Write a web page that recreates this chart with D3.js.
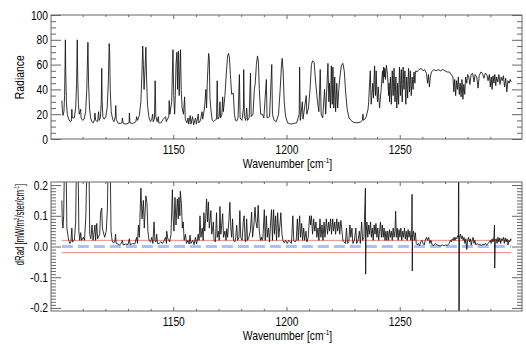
<!DOCTYPE html>
<html><head><meta charset="utf-8">
<script src="https://cdn.jsdelivr.net/npm/d3@7"></script>
<style>
body{margin:0;background:#fff}
svg text{font-family:"Liberation Sans",Arial,Helvetica,sans-serif;fill:#000}
</style>
</head><body>
<svg id="chart" width="526" height="344"></svg>
<script>
// Radiance spectrum vs wavenumber [cm-1]
const radiancePts = [
[1100.8,31],[1101.0,24],[1101.3,19],[1101.7,22],[1102.0,35],[1102.2,60],[1102.35,80],[1102.5,55],[1102.8,30],[1103.2,20],
[1103.8,16],[1104.4,14],[1105.0,14.5],[1105.2,24],[1105.4,17],[1106.3,17],[1106.9,25],[1107.3,45],[1107.6,80],[1107.8,50],
[1108.1,28],[1108.5,20],[1109.1,24],[1109.3,17],[1110,15],[1110.6,16],[1111.3,22],[1111.8,40],[1112.3,78],[1112.6,45],
[1113,25],[1113.5,17],[1114,14],[1114.7,13],[1115.2,16],[1115.4,21],[1115.7,15],[1116.6,14],[1117.0,22],[1117.3,15],
[1117.8,17],[1118.2,30],[1118.4,57],[1118.6,30],[1118.9,18],[1119.5,16],[1120.2,18],[1120.8,25],[1121.3,45],[1121.7,77],
[1121.9,70],[1122.2,38],[1122.6,22],[1123.2,16],[1123.8,14],[1124.4,18],[1124.6,27],[1124.8,16],[1125.5,13],[1126.5,12.5],
[1127.3,13],[1127.5,17],[1127.9,12.5],[1129,12],[1130.5,13],[1130.6,21],[1130.9,13],[1132,12.5],[1133.5,14],[1133.8,18],
[1134.2,15],[1135,19],[1135.7,30],[1136.2,55],[1136.5,75],[1136.8,60],[1137.1,40],[1137.5,55],[1137.9,74],[1138.2,50],
[1138.6,28],[1139.2,18],[1139.9,14],[1140.5,16],[1140.9,20],[1141.1,14],[1141.7,16],[1142.0,47],[1142.3,18],[1142.9,14],
[1143.4,18],[1143.6,13],[1144.5,13],[1145.6,16],[1146.6,18],[1146.9,14],[1148,18],[1148.2,31],[1148.5,20],[1149.3,30],
[1149.85,72],[1150.2,35],[1150.6,20],[1150.9,35],[1151.2,60],[1151.6,70],[1151.9,40],[1152.1,65],[1152.3,71],[1152.6,35],
[1152.9,55],[1153.2,72],[1153.5,40],[1153.9,25],[1154.5,20],[1155.0,34],[1155.3,16],[1156,13],[1156.5,17],[1156.8,12],
[1157.5,19],[1157.8,12],[1158.5,18],[1159,11.5],[1159.8,17],[1160.2,12],[1161,20],[1161.3,13],[1162,15],[1162.7,22],
[1163,16],[1163.8,25],[1164.4,40],[1164.7,25],[1165.0,45],[1165.6,69],[1165.9,65],[1166.2,33],[1166.6,24],[1167.1,16],
[1167.7,14],[1168.3,15],[1169.1,16],[1169.4,47],[1169.7,16],[1170.3,18],[1170.6,30],[1170.9,17],[1171.5,20],[1171.8,34],
[1172.1,22],[1172.8,35],[1173.5,55],[1174.0,67],[1174.4,69],[1174.8,66],[1175.2,52],[1175.8,36],[1176.5,37],[1177,20],
[1177.5,15],[1178.0,14.5],[1178.6,17],[1179.2,52],[1179.5,17],[1180.3,15],[1181.0,25],[1181.1,56],[1181.4,18],[1182.0,15],
[1182.4,25],[1182.8,15],[1183.5,17],[1184.1,53],[1184.4,18],[1185.2,20],[1185.8,40],[1186.2,45],[1186.7,60],[1187.2,67],
[1187.6,62],[1188.0,40],[1188.6,20],[1189.3,20],[1190,17],[1191.1,48],[1191.4,17],[1192.5,18],[1193.5,60],[1193.8,20],
[1194.5,15],[1195.5,14],[1196.5,20],[1197.2,40],[1197.8,60],[1198.1,65],[1198.5,55],[1199,30],[1199.6,18],[1200.5,13],
[1202,12],[1203,12.5],[1204.5,13],[1205.6,20],[1205.8,58],[1206.1,15],[1207.0,30],[1207.3,16],[1208.7,35],[1209,20],
[1209.7,25],[1210.4,40],[1211,60],[1211.5,63],[1212.2,62],[1212.9,45],[1213.7,30],[1214.3,22],[1214.9,56],[1215.3,20],
[1216.0,17],[1216.8,40],[1217.3,20],[1218.3,61],[1218.7,30],[1219.0,45],[1219.4,25],[1219.8,59],[1220.2,28],[1220.5,58],
[1220.9,25],[1221.3,50],[1221.7,22],[1222.2,45],[1222.6,25],[1223.1,40],[1223.6,50],[1224.2,59],[1224.9,61],[1225.5,55],
[1226.1,38],[1226.8,24],[1227.6,17],[1228.5,15],[1229.5,13.5],[1231,13],[1232.5,13.5],[1233.5,15],[1233.75,20],[1234,15],
[1235,17],[1235.5,20],[1236.0,24],[1236.3,30],[1236.6,42],[1237.0,55],[1237.2,40],[1237.4,28],[1237.7,35],[1238.1,45],
[1238.4,33],[1238.7,50],[1238.9,59],[1239.1,42],[1239.3,35],[1239.6,55],[1239.9,38],[1240.2,30],[1240.5,42],[1240.8,33],
[1241.1,25],[1241.4,32],[1241.8,40],[1242.1,48],[1242.4,55],[1242.7,45],[1242.9,58],[1243.2,50],[1243.4,57],[1243.7,48],
[1244.1,59.5],[1244.4,55],[1244.6,52],[1244.9,42],[1245.1,35],[1245.3,45],[1245.5,30],[1245.7,42],[1245.9,50],[1246.1,38],
[1246.3,28],[1246.5,40],[1246.7,55],[1246.9,45],[1247.1,35],[1247.3,48],[1247.5,57],[1247.7,42],[1247.9,30],[1248.1,38],
[1248.3,50],[1248.5,35],[1248.7,25],[1248.9,33],[1249.1,45],[1249.3,36],[1249.5,28],[1249.7,44],[1249.9,58],[1250.1,46],
[1250.3,35],[1250.5,47],[1250.7,56],[1250.9,41],[1251.1,30],[1251.3,44],[1251.5,58],[1251.7,48],[1251.9,40],[1252.1,49],
[1252.3,55],[1252.5,38],[1252.7,28],[1252.9,40],[1253.1,50],[1253.3,42],[1253.5,33],[1253.7,46],[1253.9,57],[1254.1,47],
[1254.3,38],[1254.5,48],[1254.7,55],[1254.9,44],[1255.1,35],[1255.3,43],[1255.5,50],[1255.7,45],[1255.9,40],[1256.1,48],
[1256.3,54],[1256.5,50],[1256.7,45],[1256.9,52],[1257.1,55],[1257.5,54],[1258.5,56],[1259.5,57],[1260.3,55],[1261,56],
[1261.8,53],[1262.3,45],[1262.7,52],[1263.1,42],[1263.5,50],[1264,54],[1265,56],[1266,55],[1267,56],[1268,55],
[1269,56],[1270,55],[1271,54],[1272,54],[1273.5,50],[1273.9,38],[1274.3,48],[1274.7,35],[1275.1,47],[1275.5,40],
[1275.9,50],[1276.3,36],[1276.7,45],[1277.1,34],[1277.5,48],[1277.9,32],[1278.3,44],[1278.7,36],[1279.1,50],[1279.6,45],
[1280,52],[1280.5,50],[1281,44],[1281.5,52],[1282.2,53],[1282.8,46],[1283.3,52],[1284,50],[1284.6,41],[1285.1,51],
[1285.8,54],[1286.5,53],[1287.2,49],[1287.8,53],[1288.5,52],[1289,47],[1289.6,52],[1290,42],[1290.4,50],[1290.8,40],
[1291.2,51],[1291.6,45],[1292,52],[1292.4,43],[1292.8,50],[1293.3,46],[1293.8,52],[1294.3,44],[1294.8,50],[1295.3,47],
[1295.8,51],[1296.3,42],[1296.8,49],[1297.3,38],[1297.8,47],[1298.3,45],[1298.8,48],[1299.2,46]
];

// Radiance difference [mW/m2/ster/cm-1]
const dRadPts = [
[1100.8,0.15],[1101.0,0.08],[1101.3,0.06],[1101.6,0.10],[1101.9,0.25],[1102.3,0.35],[1102.7,0.25],[1103.0,0.06],[1103.4,0.04],[1103.8,0.02],
[1104.3,0.01],[1104.8,0.015],[1105.2,0.06],[1105.5,0.015],[1106.3,0.02],[1106.9,0.08],[1107.2,0.25],[1107.6,0.35],[1108.0,0.25],[1108.3,0.05],
[1108.7,0.02],[1109.1,0.045],[1109.5,0.02],[1110.3,0.03],[1110.8,0.02],[1111.4,0.1],[1111.8,0.25],[1112.3,0.35],[1112.8,0.25],[1113.1,0.04],
[1113.6,0.025],[1114.1,0.07],[1114.6,0.02],[1115.4,0.07],[1115.7,0.02],[1116.2,0.075],[1116.6,0.025],[1117.5,0.04],[1117.9,0.11],[1118.4,0.125],
[1118.7,0.06],[1119.0,0.05],[1119.7,0.03],[1120.4,0.05],[1120.9,0.12],[1121.2,0.25],[1121.7,0.35],[1122.2,0.25],[1122.5,0.05],[1123,0.02],
[1123.5,0.012],[1124.2,0.015],[1124.5,0.04],[1124.8,0.01],[1125.5,0.008],[1126.3,0.005],[1127,0.01],[1127.5,0.02],[1127.9,0.005],[1129,0.008],
[1130,0.006],[1130.6,0.025],[1131,0.005],[1132,0.01],[1133,0.008],[1133.8,0.03],[1134.2,0.01],[1134.6,0.07],[1135.0,0.03],[1135.7,0.19],
[1136.2,0.09],[1136.8,0.15],[1137.2,0.06],[1137.9,0.165],[1138.4,0.14],[1138.8,0.05],[1139.3,0.02],[1140,0.015],[1140.5,0.03],[1141.0,0.01],
[1141.5,0.08],[1141.9,0.02],[1142.3,0.015],[1142.7,0.04],[1143,0.01],[1143.8,0.01],[1144.5,0.015],[1145.3,0.01],[1146.0,0.02],[1146.6,0.03],
[1147.0,0.01],[1147.1,0.05],[1147.6,0.025],[1148.4,0.015],[1149.0,0.04],[1149.6,0.185],[1149.9,0.1],[1150.3,0.05],[1150.75,0.16],[1151.2,0.07],
[1151.8,0.155],[1152.2,0.09],[1152.5,0.16],[1152.9,0.1],[1153.1,0.18],[1153.6,0.14],[1154.0,0.06],[1154.4,0.08],[1154.8,0.02],[1155.4,0.04],
[1155.8,0.01],[1156.5,0.02],[1157,0.008],[1157.4,0.037],[1157.8,0.01],[1158.6,0.02],[1159.2,0.006],[1159.8,0.03],[1160.3,0.008],[1161.0,0.04],
[1161.4,0.02],[1161.8,0.10],[1162.2,0.03],[1162.8,0.06],[1163.2,0.02],[1163.5,0.11],[1163.9,0.05],[1164.3,0.09],[1164.7,0.155],[1165.1,0.08],
[1165.5,0.145],[1165.9,0.06],[1166.3,0.09],[1166.6,0.117],[1167.0,0.04],[1167.4,0.06],[1167.7,0.08],[1168.0,0.02],[1168.6,0.015],[1169.1,0.11],
[1169.4,0.03],[1169.9,0.05],[1170.3,0.02],[1170.6,0.13],[1171.0,0.04],[1171.4,0.07],[1171.8,0.107],[1172.2,0.03],[1172.8,0.05],[1173.3,0.02],
[1173.6,0.058],[1174.0,0.03],[1174.6,0.09],[1175.0,0.144],[1175.4,0.06],[1175.8,0.03],[1176.2,0.09],[1176.6,0.02],[1177.2,0.015],[1177.6,0.03],
[1178.0,0.069],[1178.4,0.02],[1179.0,0.03],[1179.4,0.117],[1179.8,0.03],[1180.4,0.02],[1180.9,0.08],[1181.3,0.1],[1181.7,0.02],[1182.0,0.015],
[1182.4,0.09],[1182.8,0.02],[1183.4,0.03],[1184.0,0.05],[1184.6,0.112],[1185.0,0.03],[1185.6,0.07],[1186.1,0.128],[1186.5,0.08],[1187.0,0.06],
[1187.5,0.134],[1188.0,0.05],[1188.5,0.02],[1189.0,0.031],[1189.3,0.02],[1189.6,0.03],[1190.2,0.12],[1190.6,0.02],[1191.1,0.10],[1191.5,0.03],
[1192.0,0.06],[1192.5,0.015],[1193.0,0.08],[1193.4,0.12],[1193.8,0.02],[1194.3,0.12],[1194.7,0.04],[1195.2,0.10],[1195.6,0.02],[1196.1,0.11],
[1196.6,0.03],[1197.1,0.07],[1197.5,0.11],[1198.0,0.04],[1198.4,0.02],[1199.0,0.012],[1199.6,0.02],[1200.3,0.01],[1201.0,0.02],[1201.6,0.015],
[1202.2,0.01],[1202.8,0.1],[1203.2,0.02],[1203.8,0.015],[1204.3,0.02],[1204.8,0.09],[1205.2,0.02],[1205.8,0.1],[1206.2,0.03],[1206.7,0.075],
[1207.1,0.02],[1207.6,0.06],[1208.0,0.02],[1208.6,0.05],[1209.0,0.015],[1209.6,0.03],[1210.2,0.1],[1210.6,0.07],[1211.0,0.1],[1211.5,0.04],
[1212.0,0.09],[1212.5,0.05],[1213.0,0.08],[1213.4,0.03],[1213.9,0.06],[1214.3,0.02],[1214.8,0.09],[1215.2,0.03],[1215.7,0.07],[1216.1,0.02],
[1216.6,0.08],[1217.0,0.03],[1217.6,0.09],[1218.1,0.04],[1218.6,0.08],[1219.0,0.05],[1219.5,0.09],[1219.9,0.04],[1220.4,0.09],[1220.8,0.05],
[1221.3,0.08],[1221.7,0.04],[1222.2,0.09],[1222.6,0.05],[1223.1,0.08],[1223.5,0.04],[1224.0,0.085],[1224.5,0.05],[1224.9,0.02],[1225.4,0.015],
[1226.0,0.01],[1226.5,0.06],[1226.9,0.01],[1227.5,0.015],[1228.0,0.07],[1228.4,0.03],[1228.9,0.06],[1229.3,0.01],[1230.0,0.02],[1230.6,0.06],
[1231.0,0.01],[1231.6,0.02],[1232.2,0.05],[1232.6,0.01],[1233.2,0.08],[1233.6,0.02],[1234.2,0.03],[1234.85,0.19],[1234.95,-0.09],[1235.1,0.03],
[1235.5,0.08],[1235.9,0.03],[1236.3,0.07],[1236.7,0.04],[1237.1,0.08],[1237.5,0.03],[1237.9,0.06],[1238.3,0.02],[1238.7,0.07],[1239.1,0.04],
[1239.5,0.075],[1239.9,0.03],[1240.3,0.06],[1240.7,0.02],[1241.1,0.05],[1241.5,0.08],[1241.9,0.03],[1242.3,0.07],[1242.7,0.03],[1243.1,0.06],
[1243.5,0.02],[1243.9,0.05],[1244.3,0.02],[1244.7,0.05],[1245.1,0.02],[1245.5,0.055],[1245.9,0.03],[1246.3,0.05],[1246.7,0.02],[1247.1,0.06],
[1247.5,0.03],[1247.9,0.05],[1248.2,0.115],[1248.5,0.03],[1248.9,0.06],[1249.3,0.02],[1249.7,0.055],[1250.1,0.03],[1250.5,0.06],[1250.9,0.02],
[1251.3,0.05],[1251.7,0.03],[1252.1,0.06],[1252.5,0.025],[1252.9,0.05],[1253.3,0.02],[1253.7,0.055],[1254.1,0.03],[1254.5,0.05],[1254.9,0.02],
[1255.3,0.04],[1255.45,0.17],[1255.55,-0.08],[1255.7,0.03],[1256.1,0.05],[1256.5,0.02],[1256.9,0.045],[1257.3,0.01],[1257.8,0.005],[1258.3,0.01],
[1258.8,0.003],[1259.3,0.015],[1259.8,0.02],[1260.3,0.01],[1260.8,0.005],[1261.3,0.02],[1261.8,0.03],[1262.3,0.02],[1262.8,0.03],[1263.3,0.01],
[1263.8,0.02],[1264.3,0.005],[1265,0.003],[1265.8,0.01],[1266.5,0.005],[1267.2,0.003],[1268,0.002],[1268.8,0.005],[1269.5,0.002],[1270.2,0.005],
[1271,0.003],[1271.8,0.01],[1272.4,0.02],[1272.8,0.015],[1273.2,0.025],[1273.6,0.02],[1274.0,0.03],[1274.4,0.02],[1274.8,0.03],[1275.2,0.025],
[1275.6,0.035],[1275.9,0.03],[1276.05,0.5],[1276.15,-0.5],[1276.4,0.03],[1276.8,0.04],[1277.2,0.025],[1277.6,0.035],[1278.0,0.02],[1278.4,0.03],
[1278.8,0.01],[1279.2,0.025],[1279.6,-0.01],[1280.0,0.02],[1280.4,0.03],[1280.8,0.015],[1281.2,0.025],[1281.6,0.005],[1282.0,0.02],[1282.4,0.03],
[1282.8,0.01],[1283.2,0.02],[1283.6,0.005],[1284.2,0.01],[1284.8,0.005],[1285.4,0.008],[1286,0.003],[1286.6,0.008],[1287.2,0.005],[1287.8,0.01],
[1288.4,0.004],[1289,0.01],[1289.6,0.015],[1290.0,0.02],[1290.4,0.01],[1290.8,0.025],[1291.2,0.015],[1291.6,0.03],[1291.85,0.07],[1291.95,-0.07],
[1292.2,0.02],[1292.6,0.025],[1293.0,0.01],[1293.4,0.03],[1293.8,0.015],[1294.2,0.028],[1294.6,0.01],[1295.0,0.025],[1295.4,0.02],[1295.8,0.03],
[1296.2,0.01],[1296.6,0.028],[1297.0,0.015],[1297.4,0.025],[1297.8,0.005],[1298.2,0.02],[1298.6,0.015],[1299.0,0.025],[1299.2,0.02]
];

const xDomain = [1096, 1304];
const xMajorTicks = [1150, 1200, 1250];
const xMinorTicks = [1110,1120,1130,1140,1160,1170,1180,1190,1210,1220,1230,1240,1260,1270,1280,1290];
const radMajorTicks = [0, 20, 40, 60, 80, 100];
const dRadMajorTicks = [-0.2, -0.1, 0.0, 0.1, 0.2];
const noiseLevels = [-0.02, 0.02];
const zeroLevel = [0];

const svg = d3.select("#chart");
const FONT = 12.5, SX = 0.82;
const x = d3.scaleLinear().domain(xDomain).range([51, 522]);

// squeeze a text element horizontally (in its own frame) to a given length
function fitText(t, cx, cy, target, rotate) {
  const len = t.node().getComputedTextLength();
  const s = target / len;
  t.attr("transform", `translate(${cx},${cy})${rotate ? " rotate(-90)" : ""} scale(${s},1)`);
}

function sup(t, s) {
  t.append("tspan").attr("dy", -5).attr("font-size", FONT * 0.6).text(s);
}

function panel(cfg) {
  const g = svg.append("g");
  const y = d3.scaleLinear().domain(cfg.yDomain).range([cfg.bottom, cfg.top]);
  const [x0, x1] = x.range();
  const clipId = "clip" + cfg.id;
  svg.append("clipPath").attr("id", clipId).append("rect")
    .attr("x", x0).attr("y", cfg.top).attr("width", x1 - x0).attr("height", cfg.bottom - cfg.top);

  const plot = g.append("g").attr("clip-path", `url(#${clipId})`);
  if (cfg.under) cfg.under(plot, y);
  plot.append("path")
    .datum(cfg.data)
    .attr("fill", "none")
    .attr("stroke", "#111")
    .attr("stroke-width", 0.85)
    .attr("stroke-linejoin", "round")
    .attr("d", d3.line().x(d => x(d[0])).y(d => y(d[1])));

  const axisStyle = sel => {
    sel.select(".domain").remove();
    sel.selectAll("line").attr("stroke", "#666").attr("stroke-width", 1);
    sel.selectAll("text").attr("font-size", FONT).attr("fill", "#000")
      .attr("font-family", '"Liberation Sans",Arial,sans-serif');
  };

  // y axes, ticks pointing inward on both sides
  g.append("g").attr("transform", `translate(${x0},0)`)
    .call(d3.axisLeft(y).tickValues(cfg.yMinor).tickSize(-5).tickFormat("")).call(axisStyle);
  const yl = g.append("g").attr("transform", `translate(${x0},0)`)
    .call(d3.axisLeft(y).tickValues(cfg.yMajor).tickSize(-10).tickPadding(3).tickFormat(cfg.fmt)).call(axisStyle);
  yl.selectAll("text").attr("transform", `translate(-3,0) scale(${SX},1) translate(3,0)`);
  g.append("g").attr("transform", `translate(${x1},0)`)
    .call(d3.axisRight(y).tickValues(cfg.yMinor).tickSize(-5).tickFormat("")).call(axisStyle);
  g.append("g").attr("transform", `translate(${x1},0)`)
    .call(d3.axisRight(y).tickValues(cfg.yMajor).tickSize(-10).tickFormat("")).call(axisStyle);

  // x axes
  g.append("g").attr("transform", `translate(0,${cfg.bottom})`)
    .call(d3.axisBottom(x).tickValues(xMinorTicks).tickSize(-2).tickFormat("")).call(axisStyle);
  const xb = g.append("g").attr("transform", `translate(0,${cfg.bottom})`)
    .call(d3.axisBottom(x).tickValues(xMajorTicks).tickSize(-4).tickPadding(6).tickFormat(d3.format("d"))).call(axisStyle);
  xb.selectAll("text").attr("transform", `scale(${SX},1)`);
  g.append("g").attr("transform", `translate(0,${cfg.top})`)
    .call(d3.axisTop(x).tickValues(xMinorTicks).tickSize(-2).tickFormat("")).call(axisStyle);
  g.append("g").attr("transform", `translate(0,${cfg.top})`)
    .call(d3.axisTop(x).tickValues(xMajorTicks).tickSize(-4).tickFormat("")).call(axisStyle);

  g.append("rect").attr("x", x0).attr("y", cfg.top)
    .attr("width", x1 - x0).attr("height", cfg.bottom - cfg.top)
    .attr("fill", "none").attr("stroke", "#666").attr("stroke-width", 1);

  // x title
  const xt = g.append("text").attr("text-anchor", "middle").attr("font-size", 12);
  xt.append("tspan").text("Wavenumber [cm");
  sup(xt, "-1");
  xt.append("tspan").attr("dy", 5).text("]");
  fitText(xt, 287.5, cfg.bottom + 28.7, 89.6, false);

  // y title
  const yt = g.append("text").attr("text-anchor", "middle").attr("font-size", FONT);
  cfg.ytitle(yt);
  fitText(yt, 24, cfg.ytY, cfg.ytLen, true);
  return y;
}

panel({
  id: "rad", top: 15, bottom: 139, yDomain: [0, 100], data: radiancePts,
  yMajor: radMajorTicks, yMinor: d3.range(0, 101, 5).filter(v => v % 20 !== 0),
  fmt: d3.format("d"), ytY: 77.2, ytLen: 44,
  ytitle: t => t.text("Radiance")
});

panel({
  id: "drad", top: 182, bottom: 311, yDomain: [-0.21, 0.21], data: dRadPts,
  yMajor: dRadMajorTicks,
  yMinor: d3.range(-20, 21).filter(v => v % 10 !== 0).map(v => v / 100),
  fmt: d => d.toFixed(1), ytY: 224.5, ytLen: 81.5,
  ytitle: t => {
    t.append("tspan").text("dRad [mW/m");
    sup(t, "2");
    t.append("tspan").attr("dy", 5).text("/ster/cm");
    sup(t, "-1");
    t.append("tspan").attr("dy", 5).text("]");
  },
  under: (plot, y) => {
    const ext = d3.extent(dRadPts, d => d[0]);
    plot.selectAll("line.noise").data(noiseLevels).join("line").attr("class", "noise")
      .attr("x1", x(ext[0])).attr("x2", x(ext[1]))
      .attr("y1", d => y(d)).attr("y2", d => y(d))
      .attr("stroke", "#f08a80").attr("stroke-width", 1);
    plot.selectAll("line.zero").data(zeroLevel).join("line").attr("class", "zero")
      .attr("x1", x(ext[0])).attr("x2", x(ext[1]))
      .attr("y1", d => y(d)).attr("y2", d => y(d))
      .attr("stroke", "#a9c3f0").attr("stroke-width", 3).attr("stroke-dasharray", "11,5");
  }
});
</script>
</body></html>
